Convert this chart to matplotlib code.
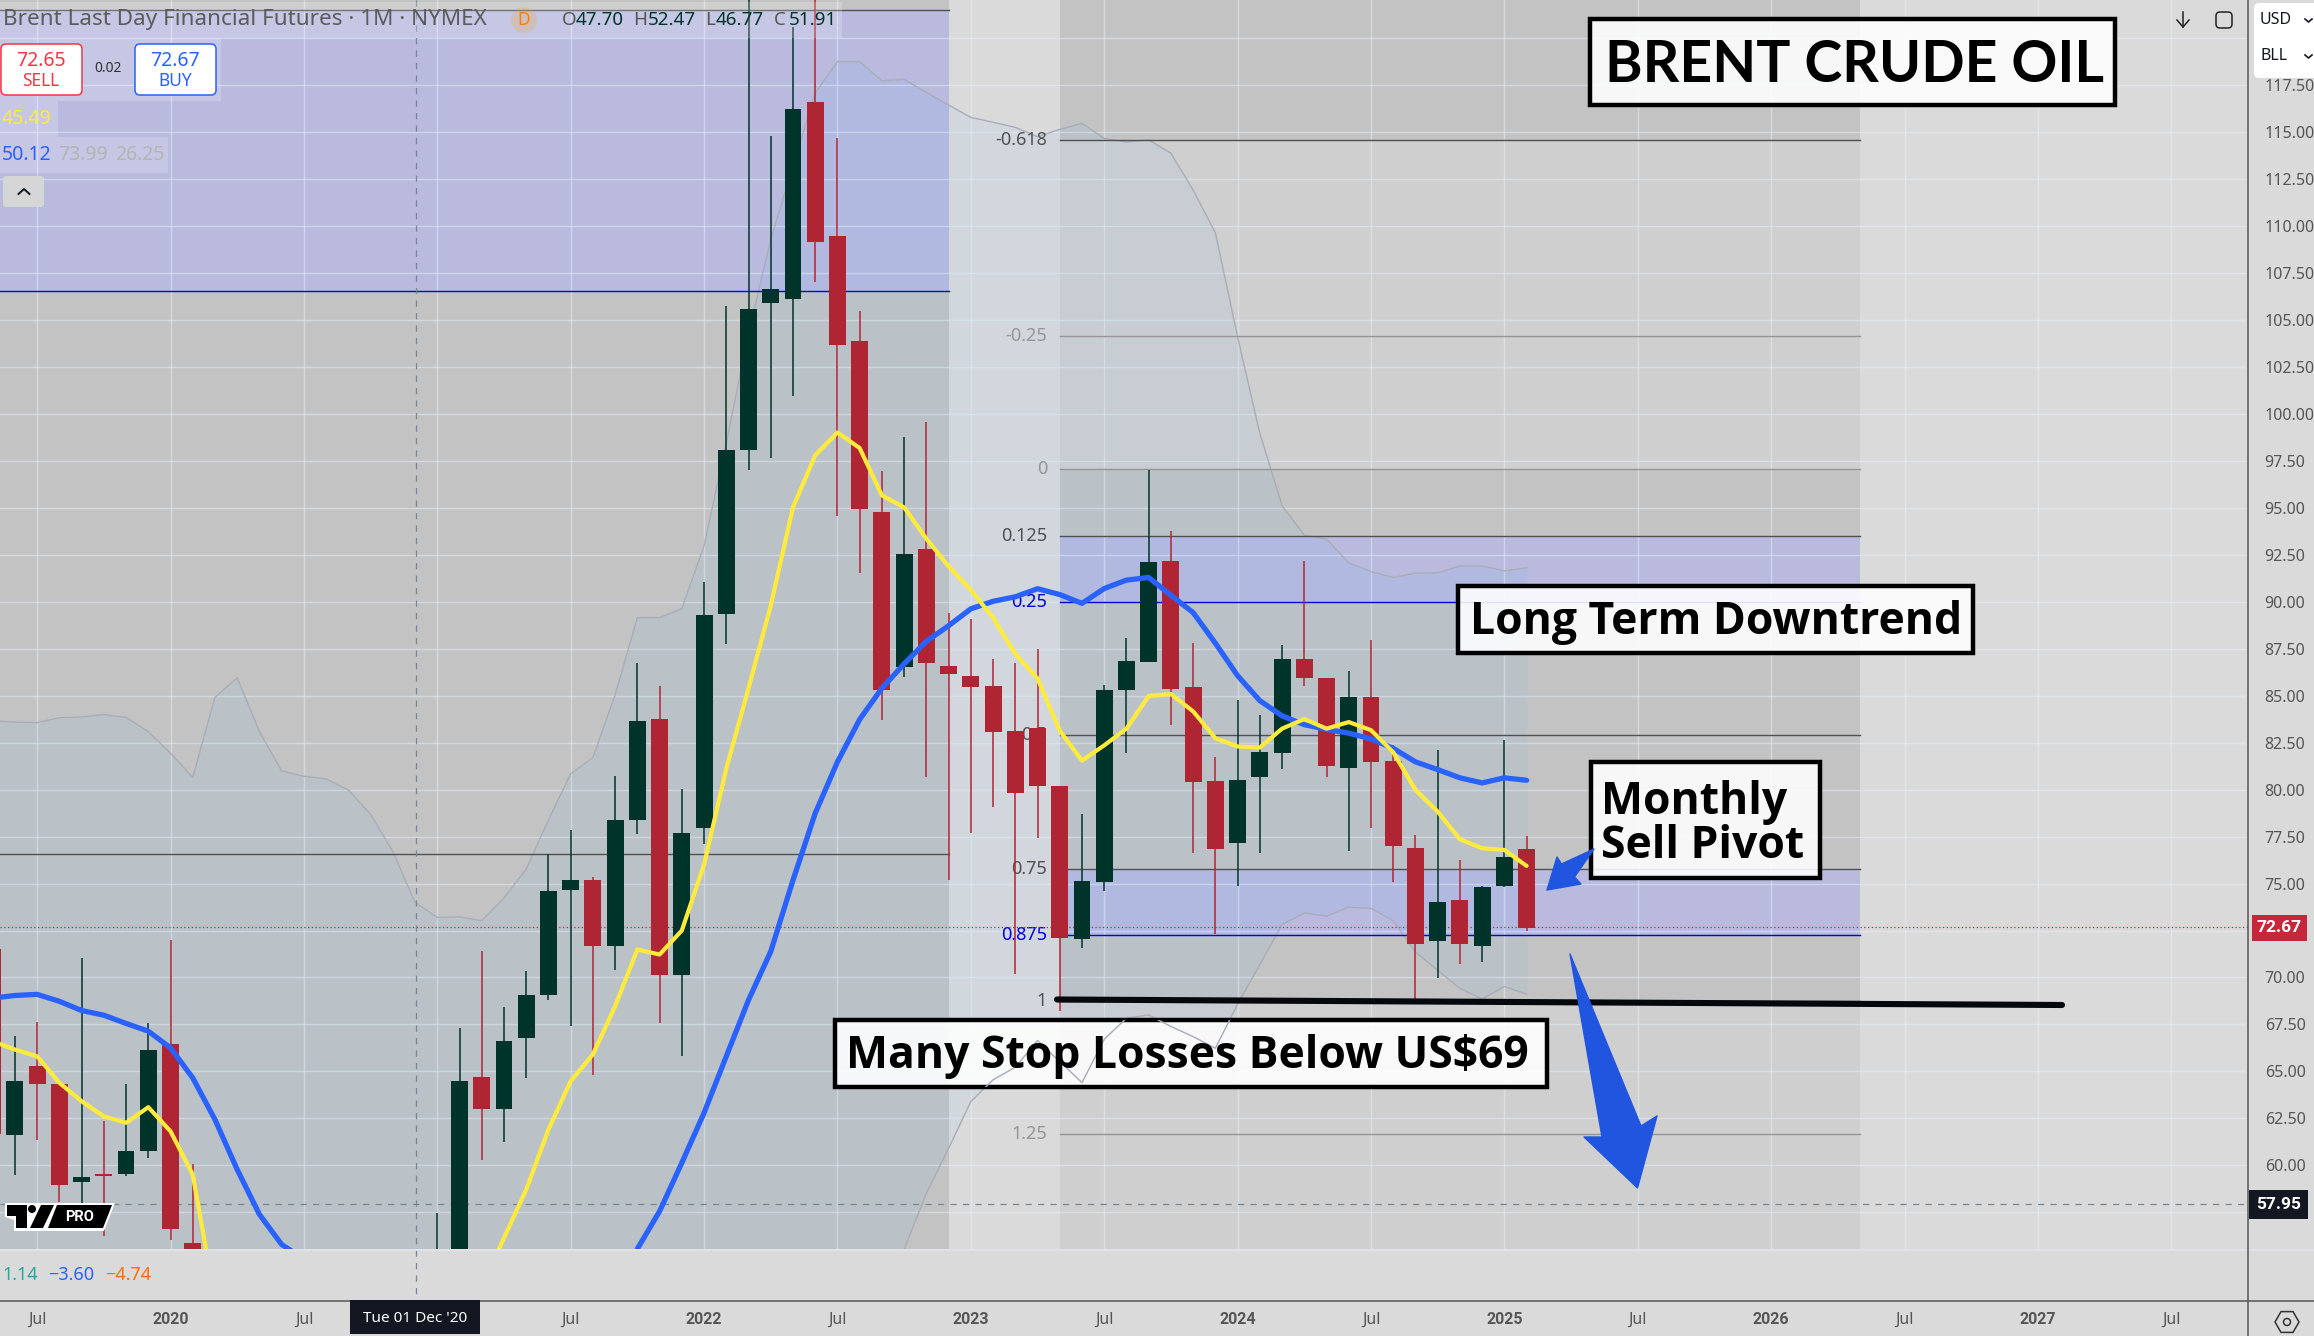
"""Brent crude monthly chart, TradingView style, with the hand drawn notes on top."""

import matplotlib
matplotlib.use("Agg")
import matplotlib.pyplot as plt
import numpy as np
from matplotlib.patches import Circle, FancyBboxPatch, Polygon, Rectangle, RegularPolygon
from matplotlib.transforms import Affine2D

W, H = 2314, 1336
UI_FONT = "Noto Sans"
BOLD_UI_FONT = "Roboto"
NOTE_FONT = "Lato"
NOTE_FONT_2 = "Open Sans"

# month index, 0 = Jan 2020
MONTHS = [-8, -7, -6, -5, -4, -3, -2, -1, 0, 1, 12, 13, 14, 15, 16, 17, 18, 19, 20, 21, 22, 23,
          24, 25, 26, 27, 28, 29, 30, 31, 32, 33, 34, 35, 36, 37, 38, 39, 40, 41, 42, 43, 44, 45,
          46, 47, 48, 49, 50, 51, 52, 53, 54, 55, 56, 57, 58, 59, 60, 61]
OPENS = [71.54, 61.60, 65.31, 64.35, 59.10, 59.56, 59.56, 60.78, 66.48, 55.88, 50.00, 54.00,
         64.72, 62.97, 66.75, 69.05, 74.66, 75.20, 71.70, 78.39, 83.76, 70.12,
         77.94, 89.37, 98.09, 105.93, 106.13, 116.60, 109.48, 103.90, 94.79, 86.52, 92.82, 86.59,
         86.07, 85.52, 83.14, 83.28, 80.20, 72.07, 75.10, 85.31, 86.82, 92.18,
         85.48, 80.46, 77.16, 80.65, 81.93, 86.96, 85.94, 81.18, 84.95, 81.52, 76.90, 71.96, 74.12,
         71.70, 74.86, 76.83]
HIGHS = [73.00, 66.90, 67.65, 64.35, 71.06, 62.38, 64.35, 67.58, 72.02, 60.04, 57.46, 67.33,
         71.40, 68.45, 70.32, 76.56, 77.87, 75.37, 80.74, 86.76, 85.52, 80.05,
         91.06, 105.77, 123.00, 114.80, 120.60, 123.00, 114.70, 105.50, 96.98, 98.78, 99.60, 89.42,
         89.08, 86.97, 86.76, 87.47, 80.20, 78.72, 85.56, 88.10, 97.03, 93.77,
         87.80, 81.75, 84.78, 83.97, 87.70, 92.18, 85.94, 86.31, 87.96, 82.40, 77.60, 82.09, 76.24,
         74.86, 82.64, 77.51]
LOWS = [60.00, 59.50, 61.33, 58.03, 57.60, 56.22, 59.45, 60.36, 56.00, 49.00, 49.00, 53.00,
        60.30, 61.26, 64.62, 68.82, 67.44, 64.83, 70.42, 77.63, 67.55, 65.80,
        77.08, 87.73, 97.00, 97.64, 100.95, 107.05, 94.55, 91.56, 83.69, 86.00, 80.69, 75.18,
        77.67, 79.10, 70.19, 77.41, 68.23, 71.59, 74.63, 81.95, 86.78, 83.46,
        76.65, 72.31, 74.86, 76.65, 81.11, 85.50, 80.67, 76.75, 77.98, 75.10, 68.70, 69.97, 70.74,
        70.84, 74.82, 72.45]
CLOSES = [61.64, 64.46, 64.32, 58.94, 59.40, 59.45, 60.78, 66.16, 56.63, 50.00, 54.00, 64.46,
          63.02, 66.64, 69.09, 74.61, 75.20, 71.66, 78.39, 83.66, 70.12, 77.70,
          89.30, 98.09, 105.60, 106.67, 116.24, 109.16, 103.68, 94.93, 85.33, 92.55, 86.75, 86.16,
          85.45, 83.09, 79.84, 80.20, 72.12, 75.16, 85.31, 86.86, 92.12, 85.35,
          80.42, 76.85, 80.52, 82.01, 86.96, 85.96, 81.28, 84.95, 81.48, 77.02, 71.80, 74.04, 71.80,
          74.82, 76.41, 72.66]

# moving averages, split where they leave the view
BLUE_A_M = [-8, -7, -6, -5, -4, -3, -2, -1, 0, 1, 2, 3, 4, 5, 6]
BLUE_A = [68.90, 69.04, 69.10, 68.73, 68.24, 67.99, 67.55, 67.14, 66.25, 64.65, 62.43, 59.77,
          57.38, 55.78, 55.00]
BLUE_B_M = list(range(21, 62))
BLUE_B = [55.55, 57.55, 60.13, 62.79, 65.80, 68.80, 71.38, 75.18, 78.74, 81.48, 83.74, 85.40,
          86.70, 87.90, 88.73, 89.63, 90.03, 90.27, 90.70, 90.39, 89.92, 90.71, 91.16, 91.30,
          90.35, 89.43, 87.80, 86.07, 84.74, 83.93, 83.46, 83.21, 83.01, 82.70, 82.20, 81.48,
          81.07, 80.63, 80.36, 80.63, 80.50]
YELLOW_A_M = [-8, -7, -6, -5, -4, -3, -2, -1, 0, 1, 2]
YELLOW_A = [66.60, 66.16, 65.80, 64.39, 63.41, 62.60, 62.26, 63.09, 61.81, 59.50, 52.85]
YELLOW_B_M = list(range(14, 62))
YELLOW_B = [53.47, 56.13, 58.70, 61.90, 64.48, 65.90, 68.47, 71.49, 71.22, 72.50, 76.01, 81.12,
            85.40, 89.80, 95.03, 97.81, 99.02, 98.19, 95.67, 95.03, 93.36, 91.89, 90.63, 89.16,
            87.23, 85.92, 83.14, 81.55, 82.36, 83.25, 84.99, 85.09, 84.17, 82.74, 82.30, 82.24,
            83.25, 83.76, 83.25, 83.60, 83.17, 81.99, 79.99, 78.83, 77.36, 76.88, 76.79, 75.94]

# bands, upper for every month from -8, lower only where it is on screen
BAND_UP_M = list(range(-8, 62))
BAND_UP = [83.67, 83.60, 83.57, 83.83, 83.87, 84.00, 83.85, 83.09, 81.94, 80.66, 84.92, 85.96,
           83.09, 81.00, 80.71, 80.57, 79.98, 78.69, 76.70, 74.00, 73.20, 73.23, 73.02, 74.23,
           75.77, 78.39, 80.84, 81.71, 85.04, 89.16, 89.16, 89.63, 93.00, 98.47, 104.30, 109.30,
           113.20, 117.10, 118.77, 118.77, 117.75, 117.83, 117.12, 116.46, 115.80, 115.54,
           115.27, 114.77, 115.16, 115.48, 114.68, 114.49, 114.60, 113.89, 111.93, 109.66,
           104.12, 98.98, 95.12, 93.55, 93.34, 92.08, 91.61, 91.30, 91.53, 91.55, 91.91, 91.91,
           91.65, 91.81]
BAND_LO_M = list(range(32, 62))
BAND_LO = [52.50, 55.53, 58.51, 60.90, 63.39, 64.55, 65.22, 66.64, 65.52, 64.40, 66.71, 67.83,
           68.00, 67.39, 66.85, 66.23, 68.58, 70.68, 72.82, 73.43, 73.27, 73.74, 73.68, 73.02,
           71.35, 70.38, 69.42, 68.85, 69.52, 69.11]

FIB_RATIOS = ["-0.618", "-0.25", "0", "0.125", "0.25", "0.5", "0.75", "0.875", "1", "1.25"]
FIB_PRICES = [114.57, 104.15, 97.07, 93.52, 89.98, 82.89, 75.80, 72.25, 68.74, 61.67]
FIB_COLORS = ["#505050", "#959595", "#959595", "#505050", "#0000dd", "#505050", "#505050",
              "#0000dd", "#505050", "#959595"]

PRICE_TICKS = [57.5 + 2.5 * i for i in range(26)]
TIME_TICKS = [-6, 0, 6, 12, 18, 24, 30, 36, 42, 48, 54, 60, 66, 72, 78, 84, 90]
TIME_LABELS = ["Jul", "2020", "Jul", "", "Jul", "2022", "Jul", "2023", "Jul", "2024", "Jul", "2025",
               "Jul", "2026", "Jul", "2027", "Jul"]

LAST_PRICE = 72.67
CROSS_PRICE = 57.95

BG = "#dadada"
DARK_GREY = "#c3c3c3"
MID_GREY = "#cfcfcf"
PURPLE = "#b9bade"
UP = "#00332a"
DOWN = "#b02533"
ARROW_BLUE = "#2055e0"
INK = "#131722"

fig = plt.figure(figsize=(W / 100, H / 100), dpi=100, facecolor=BG)
ax = fig.add_axes([0, (H - 1249) / H, 2248 / W, 1249 / H], facecolor=BG)
ax.set_xlim(-7.67, 93.45)
ax.set_ylim(55.54, 122.05)
for s in ax.spines.values():
    s.set_visible(False)

# pixel coords of the final image, y down
px = Affine2D().scale(1, -1).translate(0, H)


def shade(x0, x1, y0, y1, color):
    ax.add_patch(Rectangle((x0, y0), x1 - x0, y1 - y0, facecolor=color, edgecolor="none", zorder=0.2))


def ui_text(x, y, s, size=12, color="#555555", ha="left", weight="normal", z=12, va="center"):
    font = BOLD_UI_FONT if weight == "bold" else UI_FONT
    return ax.text(x, y, s, transform=px, fontsize=size, color=color, ha=ha, va=va, weight=weight,
                   family=font, zorder=z, clip_on=False)


def ui_rect(x0, y0, x1, y1, color, alpha=1.0, z=11):
    r = Rectangle((x0, y0), x1 - x0, y1 - y0, transform=px, facecolor=color, alpha=alpha,
                  edgecolor="none", zorder=z, clip_on=False)
    ax.add_patch(r)
    return r


# position tool shading
shade(-9, 35, 122.05, 121.5, DARK_GREY)
shade(-9, 35, 106.55, 121.5, PURPLE)
shade(-9, 35, 55.54, 106.55, DARK_GREY)
shade(40, 76, 114.57, 122.05, DARK_GREY)
shade(40, 76, FIB_PRICES[2], FIB_PRICES[0], MID_GREY)
shade(40, 76, FIB_PRICES[3], FIB_PRICES[2], DARK_GREY)
shade(40, 76, FIB_PRICES[4], FIB_PRICES[3], PURPLE)
shade(40, 76, FIB_PRICES[6], FIB_PRICES[4], DARK_GREY)
shade(40, 76, FIB_PRICES[7], FIB_PRICES[6], PURPLE)
shade(40, 76, FIB_PRICES[8], FIB_PRICES[7], DARK_GREY)
shade(40, 76, 55.54, FIB_PRICES[8], MID_GREY)

ax.set_axisbelow(True)
ax.grid(True, color="#e6f0fa", alpha=0.5, linewidth=1.0)
ax.yaxis.tick_right()
ax.set_yticks(PRICE_TICKS, [f"{t:.2f}" for t in PRICE_TICKS], family=UI_FONT, fontsize=11.5, color="#555555")
ax.set_xticks(TIME_TICKS, TIME_LABELS, family=UI_FONT, fontsize=11.5, color="#555555")
ax.tick_params(axis="y", length=0, pad=12)
ax.tick_params(axis="x", length=0, pad=45)
for lab, name in zip(ax.get_xticklabels(), TIME_LABELS):
    if name.isdigit():
        lab.set_family(BOLD_UI_FONT)
        lab.set_fontweight("bold")

# band
up_on_all = np.array(BAND_UP)
lo_on_all = np.full(len(BAND_UP_M), 50.0)
lo_on_all[-len(BAND_LO):] = BAND_LO
ax.fill_between(BAND_UP_M, lo_on_all, up_on_all, color="#5fb5fc", alpha=0.07, linewidth=0, zorder=2)
ax.plot(BAND_UP_M, BAND_UP, color="#a8adb8", linewidth=1.0, zorder=2.2)
ax.plot(BAND_LO_M, BAND_LO, color="#a8adb8", linewidth=1.0, zorder=2.2)

# fib lines, labels
for ratio, price, col in zip(FIB_RATIOS, FIB_PRICES, FIB_COLORS):
    ax.plot([40, 76], [price, price], color=col, linewidth=1.0, zorder=3)
    ax.text(1047, 1165.3 - (price - 60) * 18.78, ratio, transform=px, color=col, fontsize=13,
            ha="right", va="center", family=UI_FONT, zorder=3)
for price, col in ((121.5, "#505050"), (106.55, "#0000dd"), (76.55, "#505050")):
    ax.plot([-9, 35], [price, price], color=col, linewidth=1.0, zorder=3)

ax.axhline(LAST_PRICE, color="#c0283a", linestyle=(0, (1, 2)), linewidth=0.9, zorder=3.2)
ax.axhline(CROSS_PRICE, color="#758696", linestyle=(0, (5, 5)), linewidth=0.9, zorder=3.2)
ax.plot([415.5, 415.5], [0, 1300], transform=px, color="#758696", linestyle=(0, (5, 5)), linewidth=0.9,
        zorder=3.2, clip_on=False)

# candles
m = np.array(MONTHS)
o, hi, lo, c = map(np.array, (OPENS, HIGHS, LOWS, CLOSES))
colors = [UP if b > a else DOWN for a, b in zip(o, c)]
ax.vlines(m, lo, hi, colors=colors, linewidth=1.1, zorder=4)
ax.bar(m, np.abs(c - o), bottom=np.minimum(o, c), width=0.76, color=colors, linewidth=0, zorder=4.1)

# moving averages
for mm, vals in ((BLUE_A_M, BLUE_A), (BLUE_B_M, BLUE_B)):
    ax.plot(mm, vals, color="#2962ff", linewidth=3.8, solid_joinstyle="round", solid_capstyle="round", zorder=4.5)
for mm, vals in ((YELLOW_A_M, YELLOW_A), (YELLOW_B_M, YELLOW_B)):
    ax.plot(mm, vals, color="#ffeb3b", linewidth=3.0, solid_joinstyle="round", solid_capstyle="round", zorder=4.6)

# chart frame lines
ax.plot([2248, 2248], [0, H], transform=px, color="#555555", linewidth=1.1, zorder=9, clip_on=False)
ax.plot([0, W], [1300.5, 1300.5], transform=px, color="#555555", linewidth=1.1, zorder=9, clip_on=False)
ax.plot([0, W], [1250, 1250], transform=px, color="#e2e2ea", linewidth=1.4, zorder=8, clip_on=False)

# notes
ax.plot([1057, 2062], [999.5, 1005], transform=px, color="#05080c", linewidth=4.4,
        solid_capstyle="round", zorder=7, clip_on=False)


def note_box(x0, y0, x1, y1):
    r = Rectangle((x0 + 2.2, y0 + 2.2), x1 - x0 - 4.4, y1 - y0 - 4.4, transform=px, facecolor=(1, 1, 1, 0.88),
                  edgecolor="black", linewidth=3.2, joinstyle="miter", zorder=7.2, clip_on=False)
    ax.add_patch(r)
    return r


note_box(1588, 17, 2117, 107)
note_box(1456, 584, 1975, 655)
note_box(1589, 760, 1822, 880)
stop_box = note_box(833, 1018, 1549, 1089)
for mm, vals in ((BAND_UP_M, BAND_UP), (BAND_LO_M, BAND_LO)):
    again, = ax.plot(mm, vals, color="#a8adb8", linewidth=1.0, zorder=7.3)
    again.set_clip_path(stop_box)

note_style = dict(transform=px, weight="bold", color="black", zorder=8, clip_on=False)
ax.text(1605, 82, "BRENT CRUDE OIL", fontsize=41, family=NOTE_FONT, va="baseline", **note_style)
ax.text(1470, 634, "Long Term Downtrend", fontsize=32, family=NOTE_FONT_2, va="baseline", **note_style)
ax.text(1601, 858, "Monthly\nSell Pivot", fontsize=32, family=NOTE_FONT_2, va="baseline", linespacing=0.97, **note_style)
ax.text(846, 1068, "Many Stop Losses Below US$69", fontsize=32, family=NOTE_FONT_2, va="baseline", **note_style)

big_arrow = [(1570, 954), (1641, 1126), (1657, 1116), (1637.5, 1188), (1584, 1137), (1602, 1137)]
small_arrow = [(1594, 849), (1561.5, 864), (1557, 857), (1547, 890), (1581, 884), (1574.5, 877)]
for pts in (big_arrow, small_arrow):
    ax.add_patch(Polygon(pts, closed=True, transform=px, facecolor=ARROW_BLUE, edgecolor=ARROW_BLUE,
                         linewidth=1.0, joinstyle="round", zorder=8.5, clip_on=False))

# header strip and legend, top left
ui_rect(0, 2, 842, 38, "white", alpha=0.2)
ui_rect(0, 38, 221, 101, "white", alpha=0.2)
ui_rect(0, 101, 58, 137, "white", alpha=0.2)
ui_rect(0, 137, 168, 173, "white", alpha=0.2)
ui_text(3, 20, "Brent Last Day Financial Futures \u00b7 1M \u00b7 NYMEX", size=16.2, color="#5c5c5c")
ax.add_patch(Circle((524, 20), 13, transform=px, facecolor="#ff9800", alpha=0.18, zorder=11, clip_on=False))
ui_text(524, 20, "D", size=12.5, color="#ff8000", ha="center")
for x, s, col in ((562, "O", "#555555"), (576, "47.70", UP), (633, "H", "#555555"), (648, "52.47", UP),
                  (705, "L", "#555555"), (716, "46.77", UP), (774, "C", "#555555"), (789, "51.91", UP)):
    ui_text(x, 20, s, size=13.5, color=col)

for x0, col, top, bottom in ((1, "#f23645", "72.65", "SELL"), (135, "#2962ff", "72.67", "BUY")):
    ax.add_patch(FancyBboxPatch((x0 + 4, 48), 73, 43, boxstyle="round,pad=4,rounding_size=5", transform=px,
                                facecolor="white", edgecolor=col, linewidth=1.1, zorder=11.5, clip_on=False))
    ui_text(x0 + 40, 61, top, size=14, color=col, ha="center")
    ui_text(x0 + 40, 81, bottom, size=12.5, color=col, ha="center")
ui_text(108, 69, "0.02", size=10, color="#333333", ha="center")
ui_text(2, 119, "45.49", size=14, color="#ffeb3b")
ui_text(2, 155, "50.12", size=14, color="#2962ff")
ui_text(58, 155, "73.99", size=14, color="#b4b4b4")
ui_text(115, 155, "26.25", size=14, color="#b4b4b4")
ax.add_patch(FancyBboxPatch((6, 179), 35, 25, boxstyle="round,pad=3,rounding_size=3", transform=px,
                            facecolor="#d6d6d6", edgecolor="none", zorder=11.5, clip_on=False))
ax.plot([18.5, 24, 29.5], [194, 189, 194], transform=px, color="#131722", linewidth=1.4, zorder=12, clip_on=False)

# TV PRO logo
ax.add_patch(Polygon([(5, 1203), (115, 1203), (104, 1231), (14, 1231), (14, 1220), (5, 1217)], transform=px,
                     facecolor="white", zorder=11, clip_on=False))
ax.add_patch(Polygon([(7, 1205), (27, 1205), (27, 1228), (16, 1228), (16, 1216), (7, 1216)], transform=px,
                     facecolor="black", zorder=11.2, clip_on=False))
ax.add_patch(Circle((32, 1209), 4, transform=px, facecolor="black", zorder=11.2, clip_on=False))
ax.add_patch(Polygon([(41, 1205), (54, 1205), (43, 1228), (30, 1228)], transform=px, facecolor="black", zorder=11.2,
                     clip_on=False))
ax.add_patch(Polygon([(57, 1205), (112, 1205), (103, 1228), (48, 1228)], transform=px, facecolor="black", zorder=11.2,
                     clip_on=False))
ui_text(80, 1217, "PRO", size=10.5, color="white", ha="center", weight="bold")

# lower pane values
ui_text(2, 1275, "1.14", size=13, color="#26a69a")
ui_text(48, 1275, "\u22123.60", size=13, color="#2962ff")
ui_text(105, 1275, "\u22124.74", size=13, color="#ff6d00")

# time label under the crosshair
ui_rect(350, 1300, 480, 1333.5, INK)
ui_text(415, 1319, "Tue 01 Dec '20", size=11, color="white", ha="center")

# price scale tags and controls
ax.add_patch(FancyBboxPatch((2254, 3), 66, 75, boxstyle="round,pad=0,rounding_size=5", transform=px,
                            facecolor="white", edgecolor="none", zorder=11, clip_on=False))
ui_text(2260, 20, "USD", size=11.5, color=INK)
ui_text(2260, 56, "BLL", size=11.5, color=INK)
for cy in (20, 56):
    ax.plot([2305, 2308.5, 2312], [cy - 1, cy + 2, cy - 1], transform=px, color=INK, linewidth=1.2, zorder=12, clip_on=False)
ui_rect(2252, 915, 2307, 941, "#c4283a")
ui_text(2279.5, 928, "72.67", size=12.5, color="white", ha="center", weight="bold")
ui_rect(2249, 1190, 2308, 1219, INK)
ui_text(2279, 1204.5, "57.95", size=12.5, color="white", ha="center", weight="bold")
ax.plot([2183, 2183], [12, 27], transform=px, color="#222222", linewidth=1.1, zorder=12, clip_on=False)
ax.plot([2177, 2183, 2189], [20, 27, 20], transform=px, color="#222222", linewidth=1.1, zorder=12, clip_on=False)
ax.add_patch(FancyBboxPatch((2220, 16), 8, 8, boxstyle="round,pad=4,rounding_size=4", transform=px, facecolor="none",
                            edgecolor="#222222", linewidth=1.1, zorder=12, clip_on=False))
ax.add_patch(RegularPolygon((2287, 1322), 6, radius=12, orientation=np.pi / 2, transform=px, facecolor="none",
                            edgecolor="#333333", linewidth=1.1, zorder=12, clip_on=False))
ax.add_patch(Circle((2287, 1322), 3.5, transform=px, facecolor="none", edgecolor="#333333", linewidth=1.1, zorder=12,
                    clip_on=False))

fig.savefig("out.png", dpi=100, facecolor=BG)
plt.close(fig)
